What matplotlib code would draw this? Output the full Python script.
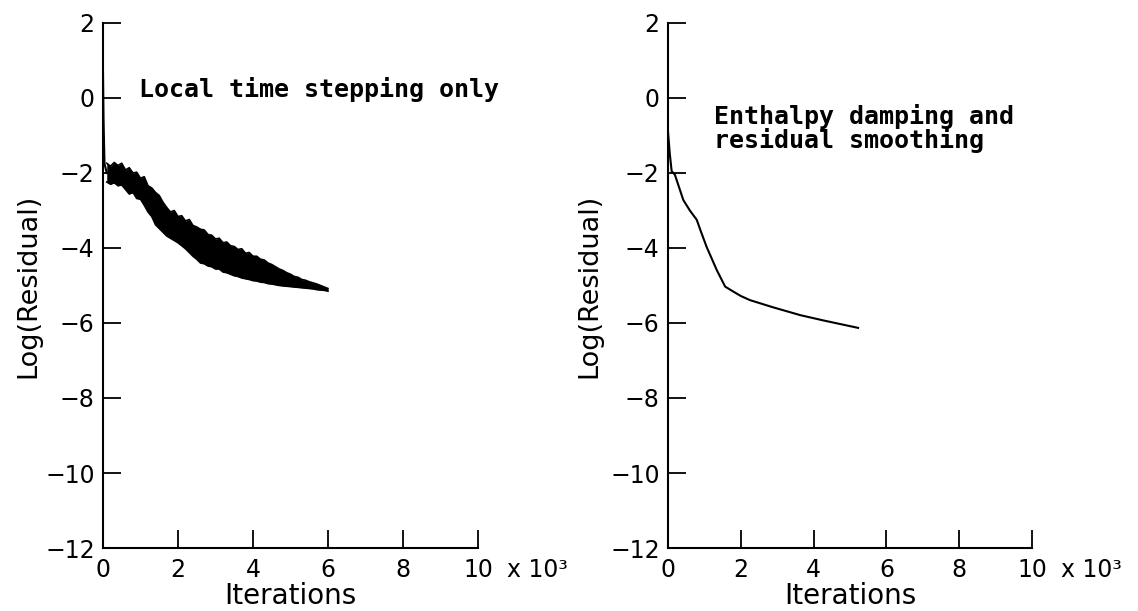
import matplotlib
matplotlib.use("Agg")
import matplotlib.pyplot as plt

# Local time stepping only: start-up transient, then the oscillating band
lts_start_iter = [0, 15, 40, 100]
lts_start_res = [0.7, -0.6, -1.75, -2.0]

band_iter = [100, 200, 300, 400, 500, 600, 700, 800, 900, 1000,
             1100, 1200, 1300, 1400, 1500, 1600, 1700, 1800, 1900, 2000,
             2100, 2200, 2300, 2400, 2500, 2600, 2700, 2800, 2900, 3000,
             3100, 3200, 3300, 3400, 3500, 3600, 3700, 3800, 3900, 4000,
             4100, 4200, 4300, 4400, 4500, 4600, 4700, 4800, 4900, 5000,
             5100, 5200, 5300, 5400, 5500, 5600, 5700, 5800, 5900, 6000]
band_upper = [-1.74, -1.82, -1.72, -1.80, -1.74, -1.92, -1.86, -2.00, -1.98, -2.14,
              -2.10, -2.34, -2.40, -2.52, -2.60, -2.78, -2.92, -3.04, -3.00, -3.16,
              -3.14, -3.28, -3.24, -3.40, -3.44, -3.50, -3.52, -3.64, -3.66, -3.76,
              -3.74, -3.86, -3.84, -3.94, -3.96, -4.04, -4.02, -4.14, -4.12, -4.22,
              -4.22, -4.30, -4.32, -4.40, -4.44, -4.50, -4.56, -4.60, -4.66, -4.70,
              -4.76, -4.78, -4.84, -4.86, -4.90, -4.93, -4.96, -5.00, -5.04, -5.08]
band_lower = [-2.24, -2.30, -2.26, -2.34, -2.32, -2.44, -2.56, -2.52, -2.68, -2.70,
              -2.86, -3.04, -3.16, -3.38, -3.48, -3.58, -3.68, -3.74, -3.80, -3.86,
              -3.94, -4.02, -4.12, -4.22, -4.30, -4.40, -4.42, -4.48, -4.50, -4.56,
              -4.56, -4.64, -4.66, -4.70, -4.74, -4.76, -4.80, -4.82, -4.84, -4.87,
              -4.88, -4.91, -4.92, -4.95, -4.96, -4.98, -5.00, -5.01, -5.02, -5.03,
              -5.04, -5.05, -5.06, -5.07, -5.08, -5.09, -5.11, -5.12, -5.13, -5.15]

# Enthalpy damping + residual smoothing
ed_iter = [0, 50, 100, 190, 420, 600, 790, 900, 1060, 1340, 1570, 1790,
           2000, 2250, 2880, 3630, 4260, 5220]
ed_res = [-0.9, -1.5, -1.95, -2.05, -2.72, -3.0, -3.25, -3.55, -3.97, -4.59,
          -5.03, -5.16, -5.28, -5.39, -5.58, -5.79, -5.93, -6.13]

xticks = [0, 2000, 4000, 6000, 8000, 10000]
xtick_labels = ["0", "2", "4", "6", "8", "10"]
yticks = [2, 0, -2, -4, -6, -8, -10, -12]
ytick_labels = ["2", "0", "\u22122", "\u22124", "\u22126", "\u22128", "\u221210", "\u221212"]

plt.rcParams["font.family"] = "DejaVu Sans"

fig = plt.figure(figsize=(11.38, 6.11), dpi=100)
ax1 = fig.add_axes([0.0905, 0.1031, 0.3295, 0.8593])
ax2 = fig.add_axes([0.587, 0.1031, 0.3199, 0.8593])

def style(ax, ylab_x):
    ax.set_xlim(0, 10000)
    ax.set_ylim(-12, 2)
    for s in ["top", "right"]:
        ax.spines[s].set_visible(False)
    for s in ["left", "bottom"]:
        ax.spines[s].set_linewidth(1.5)
    ax.set_xticks(xticks)
    ax.set_xticklabels(xtick_labels)
    ax.set_yticks(yticks)
    ax.set_yticklabels(ytick_labels)
    ax.tick_params(direction="in", length=13, width=1.3, labelsize=17)
    ax.tick_params(axis="y", pad=6)
    ax.tick_params(axis="x", pad=7)
    ax.set_xlabel("Iterations", fontsize=20, va="baseline")
    ax.xaxis.set_label_coords(0.5, -0.107)
    ax.set_ylabel("Log(Residual)", fontsize=19.5)
    ax.yaxis.set_label_coords(ylab_x, 0.5)
    ax.annotate("x 10\u00b3", xy=(10000, 0), xycoords=("data", "axes fraction"),
                xytext=(21, -7), textcoords="offset points",
                ha="left", va="top", fontsize=17)

style(ax1, -0.163)
style(ax2, -0.179)

ax1.plot(lts_start_iter, lts_start_res, color="black", lw=1.5)
ax1.fill_between(band_iter, band_lower, band_upper, color="black", lw=0)
ax1.plot(band_iter, band_upper, color="black", lw=1.2)
ax1.plot(band_iter, band_lower, color="black", lw=1.2)

ax2.plot(ed_iter, ed_res, color="black", lw=1.5)

note = dict(family="DejaVu Sans Mono", fontweight="bold", fontsize=18)
ax1.text(960, 0.03, "Local time stepping only", ha="left", va="baseline", **note)
ax2.text(1260, -0.69, "Enthalpy damping and", ha="left", va="baseline", **note)
ax2.text(1260, -1.33, "residual smoothing", ha="left", va="baseline", **note)

fig.savefig("out.png", dpi=100)
